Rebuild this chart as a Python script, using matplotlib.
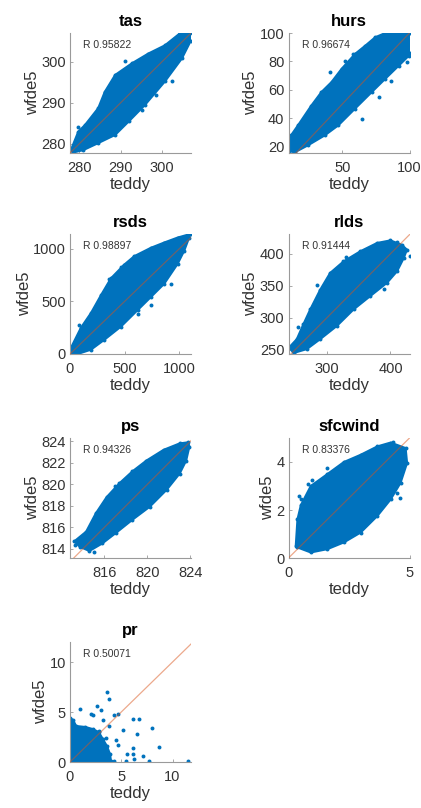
import matplotlib
matplotlib.use('Agg')
import matplotlib.pyplot as plt

plt.rcParams['font.family'] = ['Liberation Sans', 'DejaVu Sans']

# panel names and correlation labels
names = ['tas', 'hurs', 'rsds', 'rlds', 'ps', 'sfcwind', 'pr']
r_labels = ['R 0.95822', 'R 0.96674', 'R 0.98897', 'R 0.91444',
            'R 0.94326', 'R 0.83376', 'R 0.50071']

# outline of each point cloud (upper edge left->right, lower edge left->right)
# plus stray points
tas_up_x = [278.0, 279.8, 281.4, 284.6, 286.2, 288.7, 292.7, 296.7, 300.7, 304.3, 306.8]
tas_up_y = [278.5, 283.0, 284.6, 288.7, 292.7, 296.8, 299.6, 302.0, 304.0, 306.9, 307.0]
tas_lo_x = [278.5, 281.0, 284.6, 288.7, 292.0, 295.9, 300.7, 304.8, 306.9]
tas_lo_y = [277.9, 278.5, 280.2, 282.2, 285.5, 289.5, 295.2, 300.8, 305.0]
tas_out_x = [279.8, 295.1, 302.3, 304.3, 289.5, 283.0, 291.0, 298.5]
tas_out_y = [284.2, 288.3, 295.2, 307.1, 296.0, 285.6, 300.3, 291.8]

hurs_up_x = [10.5, 12.0, 17.0, 27.0, 34.5, 42.0, 49.5, 59.5, 67.0, 74.5, 82.0, 100.0]
hurs_up_y = [17.0, 28.2, 35.0, 49.0, 58.5, 65.5, 74.8, 85.3, 91.0, 97.0, 100.0, 100.0]
hurs_lo_x = [14.5, 24.5, 37.0, 47.0, 59.5, 72.0, 82.0, 92.0, 99.5, 100.0]
hurs_lo_y = [16.0, 21.0, 28.0, 35.0, 46.8, 58.5, 67.8, 77.0, 84.0, 86.0]
hurs_out_x = [40.8, 64.5, 58.3, 77.0, 98.3, 36.0, 52.0, 86.0]
hurs_out_y = [72.4, 39.8, 85.3, 55.0, 79.4, 29.0, 80.0, 66.0]

rsds_up_x = [2, 9, 100, 192, 284, 375, 497, 588, 741, 863, 985, 1091, 1105]
rsds_up_y = [0, 60, 250, 390, 560, 720, 850, 930, 1010, 1060, 1107, 1138, 1140]
rsds_lo_x = [70, 192, 314, 466, 619, 741, 863, 985, 1046, 1091]
rsds_lo_y = [0, 41, 135, 260, 417, 542, 668, 856, 982, 1107]
rsds_out_x = [360, 924, 741, 85, 619, 1000, 150, 470]
rsds_out_y = [715, 668, 464, 279, 382, 1100, 90, 830]

rlds_up_x = [240.5, 252.6, 263.0, 273.7, 289.5, 305.0, 326.0, 352.6, 379.0, 400.0, 418.0]
rlds_up_y = [253.6, 266.6, 290.0, 313.0, 344.0, 370.0, 388.0, 404.0, 417.0, 421.0, 414.0]
rlds_lo_x = [247.4, 268.4, 289.5, 315.8, 342.0, 368.4, 394.7, 410.5, 421.0, 426.0]
rlds_lo_y = [244.8, 251.0, 266.6, 287.3, 313.0, 334.0, 354.7, 372.8, 393.5, 406.5]
rlds_out_x = [430.0, 284.0, 410.0, 255.0, 330.0, 390.0]
rlds_out_y = [397.0, 352.0, 419.0, 285.0, 395.0, 345.0]

ps_up_x = [813.2, 814.3, 815.2, 816.2, 817.4, 818.6, 819.9, 821.5, 823.0, 823.8]
ps_up_y = [814.7, 815.6, 817.3, 818.8, 820.1, 821.2, 822.2, 823.2, 823.8, 823.9]
ps_lo_x = [813.7, 814.6, 815.8, 817.1, 818.6, 820.2, 821.8, 823.0, 823.6, 823.9]
ps_lo_y = [814.2, 813.8, 814.5, 815.5, 816.7, 817.9, 819.5, 821.0, 822.2, 823.5]
ps_out_x = [813.3, 814.0, 823.2, 815.0, 817.0, 821.0]
ps_out_y = [814.4, 815.0, 822.0, 813.7, 819.8, 819.3]

sfc_up_x = [0.30, 0.37, 0.51, 0.92, 1.61, 2.29, 2.98, 3.67, 4.22, 4.84]
sfc_up_y = [0.51, 1.61, 2.20, 3.00, 3.50, 4.00, 4.30, 4.65, 4.81, 4.58]
sfc_lo_x = [0.37, 0.92, 1.61, 2.29, 2.98, 3.67, 4.22, 4.63, 4.90]
sfc_lo_y = [0.44, 0.23, 0.37, 0.65, 1.06, 1.75, 2.44, 3.13, 3.96]
sfc_out_x = [0.99, 0.51, 4.5, 4.6, 3.05, 1.6, 4.3, 0.8, 0.45]
sfc_out_y = [3.27, 2.44, 2.7, 2.5, 1.65, 3.75, 4.85, 3.1, 2.6]

pr_up_x = [0.0, 0.3, 0.6, 1.5, 2.2, 2.8, 3.2, 3.6, 3.9, 4.0]
pr_up_y = [4.4, 4.2, 3.6, 3.5, 3.3, 3.0, 2.3, 1.6, 0.8, 0.1]
pr_lo_x = [0.0, 4.0]
pr_lo_y = [0.0, 0.0]
pr_out_x = [3.57, 3.83, 0.97, 2.63, 3.0, 2.05, 2.2, 4.32, 4.64, 6.1, 6.7, 8.0, 5.13,
            6.49, 4.48, 4.64, 8.64, 6.1, 5.6, 6.1, 7.1, 6.26, 5.45, 4.25, 7.66, 11.46,
            3.5, 3.83, 3.18, 2.86]
pr_out_y = [6.97, 6.3, 5.33, 5.63, 5.23, 4.83, 4.7, 4.73, 4.8, 4.3, 4.3, 3.4, 3.17,
            2.83, 2.17, 1.73, 1.47, 1.4, 0.83, 0.83, 0.57, 0.3, 0.07, 0.07, 0.07, 0.07,
            2.4, 3.57, 4.23, 3.07]

# axis limits and ticks
xlims = [(277.8, 307), (10, 100), (0, 1108), (239.5, 430), (812.8, 824.05), (0, 5), (0, 11.8)]
ylims = [(277.8, 307), (15.6, 100), (0, 1141), (243.3, 431), (813.15, 824.3), (0, 5), (0, 12)]
xticks = [[280, 290, 300], [50, 100], [0, 500, 1000], [300, 400], [816, 820, 824], [0, 5], [0, 5, 10]]
yticks = [[280, 290, 300], [20, 40, 60, 80, 100], [0, 500, 1000], [250, 300, 350, 400],
          [814, 816, 818, 820, 822, 824], [0, 2, 4], [0, 5, 10]]

clouds = [
    (tas_up_x, tas_up_y, tas_lo_x, tas_lo_y, tas_out_x, tas_out_y),
    (hurs_up_x, hurs_up_y, hurs_lo_x, hurs_lo_y, hurs_out_x, hurs_out_y),
    (rsds_up_x, rsds_up_y, rsds_lo_x, rsds_lo_y, rsds_out_x, rsds_out_y),
    (rlds_up_x, rlds_up_y, rlds_lo_x, rlds_lo_y, rlds_out_x, rlds_out_y),
    (ps_up_x, ps_up_y, ps_lo_x, ps_lo_y, ps_out_x, ps_out_y),
    (sfc_up_x, sfc_up_y, sfc_lo_x, sfc_lo_y, sfc_out_x, sfc_out_y),
    (pr_up_x, pr_up_y, pr_lo_x, pr_lo_y, pr_out_x, pr_out_y),
]

blue = '#0072BD'
W, H = 421, 808
lefts = [70, 288.5]
tops = [33, 234, 438, 642]

fig = plt.figure(figsize=(W / 100, H / 100), dpi=100)

for i, name in enumerate(names):
    row, col = divmod(i, 2)
    ax = fig.add_axes([lefts[col] / W, 1 - (tops[row] + 120) / H, 121 / W, 120 / H])
    ux, uy, lx, ly, ox, oy = clouds[i]

    # upper edge left to right, then lower edge back right to left
    poly_x = list(ux) + list(lx)[::-1]
    poly_y = list(uy) + list(ly)[::-1]
    ax.fill(poly_x, poly_y, color=blue, lw=1.5, ec=blue, zorder=2)
    ax.scatter(list(ux) + list(lx) + list(ox), list(uy) + list(ly) + list(oy),
               s=8, color=blue, lw=0, zorder=2)

    lo = min(xlims[i][0], ylims[i][0])
    hi = max(xlims[i][1], ylims[i][1])
    ax.plot([lo, hi], [lo, hi], color='#D95319', alpha=0.5, lw=0.9, zorder=3)

    ax.set_xlim(xlims[i])
    ax.set_ylim(ylims[i])
    ax.set_xticks(xticks[i])
    ax.set_yticks(yticks[i])
    for s in ['top', 'right']:
        ax.spines[s].set_visible(False)
    for s in ['left', 'bottom']:
        ax.spines[s].set_color('#9a9a9a')
        ax.spines[s].set_linewidth(0.8)
    ax.tick_params(direction='in', length=2.5, width=0.6, color='#9a9a9a',
                   labelsize=10.5, labelcolor='#333333')
    ax.tick_params(axis='x', pad=6)
    ax.tick_params(axis='y', pad=3)

    ax.set_title(name, fontsize=12, fontweight='bold', pad=5)
    ax.set_xlabel('teddy', fontsize=12, color='#333333', labelpad=1)
    ax.set_ylabel('wfde5', fontsize=12, color='#333333', labelpad=1)
    ax.text(0.11, 0.9, r_labels[i], transform=ax.transAxes, fontsize=7.5,
            color='#333333', va='center', ha='left')

fig.savefig('out.png', dpi=100)
